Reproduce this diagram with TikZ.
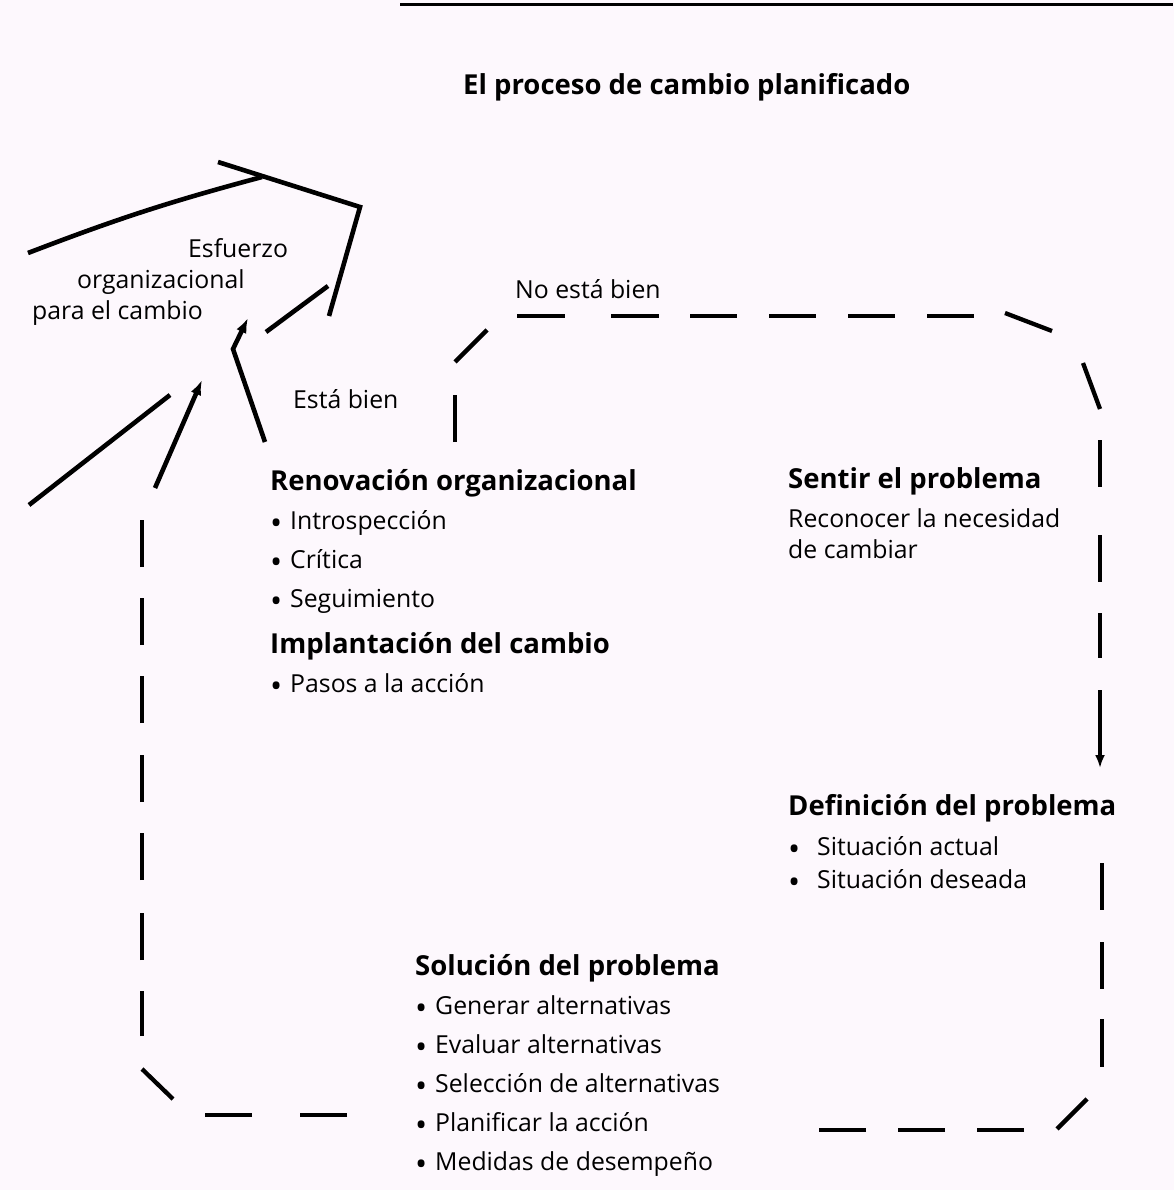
\documentclass[tikz,border=0pt]{standalone}
\usepackage{fontspec}
\usepackage{graphicx}
\setmainfont{Open Sans}
\usetikzlibrary{arrows.meta}
\definecolor{paper}{RGB}{253,248,253}
\newcommand{\bul}[1][20pt]{\makebox[#1][l]{\raisebox{-0.22em}{\scalebox{1.3}{\textbullet}}}}

\begin{document}
\begin{tikzpicture}[x=1pt,y=-1pt,
  txt/.style={font=\fontsize{24.8}{30}\selectfont, inner sep=0pt, anchor=base west},
  head/.style={font=\fontsize{27.5}{32}\selectfont\bfseries, inner sep=0pt, anchor=base west},
  ink/.style={line width=4.6pt, line join=miter},
  dsh/.style={line width=4.3pt, line cap=butt},
  tip/.style={-{Latex[length=15pt,width=11pt]}}]

% page
\fill[paper] (0,0) rectangle (1174,1190);
\useasboundingbox (0,0) rectangle (1174,1190);
\draw[line width=3pt] (400,5) -- (1173,5);

% title
\node[head] (title) at (463,95) {El proceso de cambio planificado};

% labels of the feedback loop
\node[txt] (esf1) at (188,257) {Esfuerzo};
\node[txt] (esf2) at (77,288) {organizacional};
\node[txt] (esf3) at (32,319) {para el cambio};
\node[txt] (bien) at (293,408) {Está bien};
\node[txt] (nobien) at (515,298) {No está bien};

% stages
\node[head] (renov) at (270,490) {Renovación organizacional};
\foreach \t [count=\i] in {Introspección, Crítica, Seguimiento}
  \node[txt] (renov\i) at (270,490+39*\i) {\bul\t};
\node[head] (impl) at (270,653) {Implantación del cambio};
\node[txt] (impl1) at (270,692) {\bul Pasos a la acción};

\node[head] (sentir) at (788,488) {Sentir el problema};
\node[txt] (sentir1) at (788,527) {Reconocer la necesidad};
\node[txt] (sentir2) at (788,558) {de cambiar};

\node[head] (defin) at (788,815) {Definición del problema};
\node[txt] (defin1) at (788,855) {\bul[29pt]Situación actual};
\node[txt] (defin2) at (788,888) {\bul[29pt]Situación deseada};

\node[head] (soluc) at (415,975) {Solución del problema};
\foreach \t [count=\i] in {Generar alternativas, Evaluar alternativas,
    Selección de alternativas, Planificar la acción, Medidas de desempeño}
  \node[txt] (soluc\i) at (415,975+39*\i) {\bul\t};

% the big arrow of the organizational effort
\coordinate (featherL) at (28,253);
\coordinate (featherM) at (262,177);
\coordinate (shaftA) at (218,162);
\coordinate (shaftB) at (360,207);
\coordinate (shaftC) at (329,316);
\coordinate (innerA) at (266,332);
\coordinate (innerB) at (328,286);
\coordinate (okStart) at (265,442);
\coordinate (okBend) at (233,349);
\coordinate (okTip) at (248,318);
\coordinate (loopStart) at (155,488);
\coordinate (loopTip) at (202,380);
\coordinate (lowA) at (29,505);
\coordinate (lowB) at (170,395);

\draw[ink] (featherL) to[bend left=3] (featherM);
\draw[ink] (shaftA) -- (shaftB) -- (shaftC);
\draw[ink] (innerA) -- (innerB);
\draw[ink,tip] (okStart) -- (okBend) -- (okTip);
\draw[ink,tip] (loopStart) -- (loopTip);
\draw[ink] (lowA) -- (lowB);

% dashed planning loop
\draw[dsh] (455,442) -- (455,395);
\draw[dsh] (455,362) -- (487,330);
\foreach \a/\b in {517/565, 611/659, 690/737, 769/816, 848/895, 927/974}
  \draw[dsh] (\a,316) -- (\b,316);
\draw[dsh] (1005,313) -- (1052,331);
\draw[dsh] (1083,363) -- (1100,409);
\foreach \a/\b in {440/487, 535/582, 613/658}
  \draw[dsh] (1100,\a) -- (1100,\b);
\coordinate (defArrowStart) at (1100,690);
\coordinate (defArrowTip) at (1100,768);
\draw[dsh,-{Latex[length=13pt,width=10pt]}] (defArrowStart) -- (defArrowTip);
\foreach \a/\b in {863/910, 942/989, 1019/1067}
  \draw[dsh] (1102,\a) -- (1102,\b);
\draw[dsh] (1087,1099) -- (1057,1129);
\foreach \a/\b in {977/1024, 898/945, 819/866}
  \draw[dsh] (\b,1130) -- (\a,1130);
\foreach \a/\b in {300/347, 205/252}
  \draw[dsh] (\b,1115) -- (\a,1115);
\draw[dsh] (173,1099) -- (142,1069);
\foreach \a/\b in {991/1036, 913/960, 833/880, 755/802, 676/723, 598/645, 520/567}
  \draw[dsh] (142,\b) -- (142,\a);
\end{tikzpicture}
\end{document}
